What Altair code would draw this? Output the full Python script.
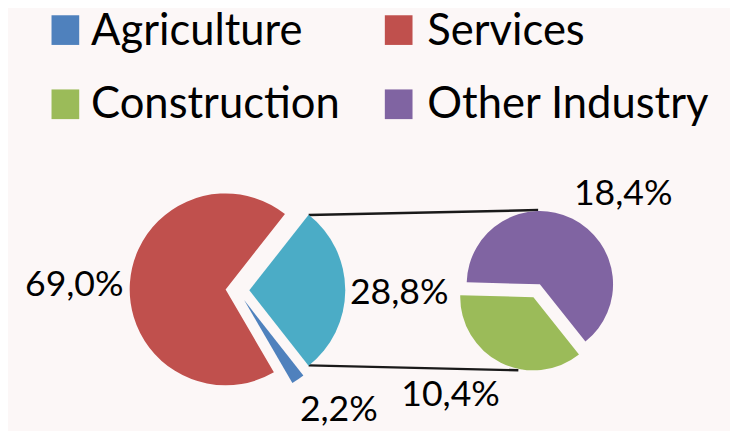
import math
import altair as alt
import pandas as pd

# ---- data ----
main_sectors = ["Industry", "Agriculture", "Services"]
main_values = [28.8, 2.2, 69.0]
sub_sectors = ["Construction", "Other Industry"]
sub_values = [10.4, 18.4]
legend_items = ["Agriculture", "Services", "Construction", "Other Industry"]

color_domain = ["Agriculture", "Services", "Construction", "Other Industry", "Industry"]
color_range = ["#4F81BD", "#C0504D", "#9BBB59", "#8064A2", "#4BACC6"]

FONT = "Lato"
BG = "#FCF7F7"

main_df = pd.DataFrame({"sector": main_sectors, "value": main_values,
                        "order": list(range(len(main_sectors)))})
sub_df = pd.DataFrame({"sector": sub_sectors, "value": sub_values,
                       "order": list(range(len(sub_sectors)))})
legend_df = pd.DataFrame({"sector": legend_items})

color_scale = alt.Scale(domain=color_domain, range=color_range)

LABEL_EXPR = "replace(format(datum.value, '.1f'), '.', ',') + '%'"


def pie(df, cx, cy, r, start_deg, explode):
    start = math.radians(start_deg)
    return (
        alt.Chart(df)
        .transform_joinaggregate(total="sum(value)")
        .transform_window(cum="sum(value)", sort=[alt.SortField("order")], frame=[None, 0])
        .transform_calculate(
            t0=f"{start} + 2*PI*(datum.cum - datum.value)/datum.total",
            t1=f"{start} + 2*PI*datum.cum/datum.total",
        )
        .transform_calculate(mid="(datum.t0 + datum.t1)/2")
        .transform_calculate(
            px=f"{cx} + {explode}*sin(datum.mid)",
            py=f"{cy} - {explode}*cos(datum.mid)",
        )
        .mark_arc(outerRadius=r)
        .encode(
            x=alt.X("px:Q", scale=None, axis=None),
            y=alt.Y("py:Q", scale=None, axis=None),
            theta=alt.Theta("t0:Q", scale=None, stack=None),
            theta2="t1:Q",
            color=alt.Color("sector:N", scale=color_scale, legend=None),
        )
    )


main_pie = pie(main_df, 232, 283, 97, 38.2, 12)
sub_pie = pie(sub_df, 534.5, 283.5, 74, 141.5, 7.3)


def connector(x1, y1, x2, y2):
    return (
        alt.Chart(main_df)
        .transform_filter(alt.datum.sector == "Industry")
        .mark_rule(color="#1a1a1a", strokeWidth=2.5)
        .encode(x=alt.value(x1), y=alt.value(y1), x2=alt.value(x2), y2=alt.value(y2))
    )


def label(df, sector, x, y):
    return (
        alt.Chart(df)
        .transform_filter(alt.datum.sector == sector)
        .transform_calculate(lbl=LABEL_EXPR)
        .mark_text(font=FONT, fontSize=36, color="black", align="center", baseline="alphabetic")
        .encode(text="lbl:N", x=alt.value(x), y=alt.value(y))
    )


# legend: (square left, square top, text left, text baseline)
LEGEND_POS = {
    "Agriculture": (44, 5, 84, 35),
    "Services": (381, 5, 424, 35),
    "Construction": (44, 80, 84, 109),
    "Other Industry": (381, 80, 424, 109),
}


def legend_entry(sector):
    sx, sy, tx, ty = LEGEND_POS[sector]
    base = alt.Chart(legend_df).transform_filter(alt.datum.sector == sector)
    sq = base.mark_rect().encode(
        x=alt.value(sx), x2=alt.value(sx + 28), y=alt.value(sy), y2=alt.value(sy + 30),
        color=alt.Color("sector:N", scale=color_scale, legend=None),
    )
    txt = base.mark_text(font=FONT, fontSize=44, color="black", align="left",
                         baseline="alphabetic").encode(
        text="sector:N", x=alt.value(tx), y=alt.value(ty))
    return [sq, txt]


legend_layers = []
for item in legend_items:
    legend_layers += legend_entry(item)

chart = alt.layer(
    connector(304, 207, 536, 202),
    connector(304, 359, 516, 364),
    main_pie,
    sub_pie,
    label(main_df, "Services", 67, 289),
    label(main_df, "Industry", 395.5, 297),
    label(main_df, "Agriculture", 334.5, 415),
    label(sub_df, "Construction", 447.5, 400),
    label(sub_df, "Other Industry", 622, 197),
    *legend_layers,
).properties(
    width=730, height=423, padding=0, autosize="none", background=BG
).configure_view(stroke=None)

chart.save("out.html", embed_options={"renderer": "svg", "actions": False})
